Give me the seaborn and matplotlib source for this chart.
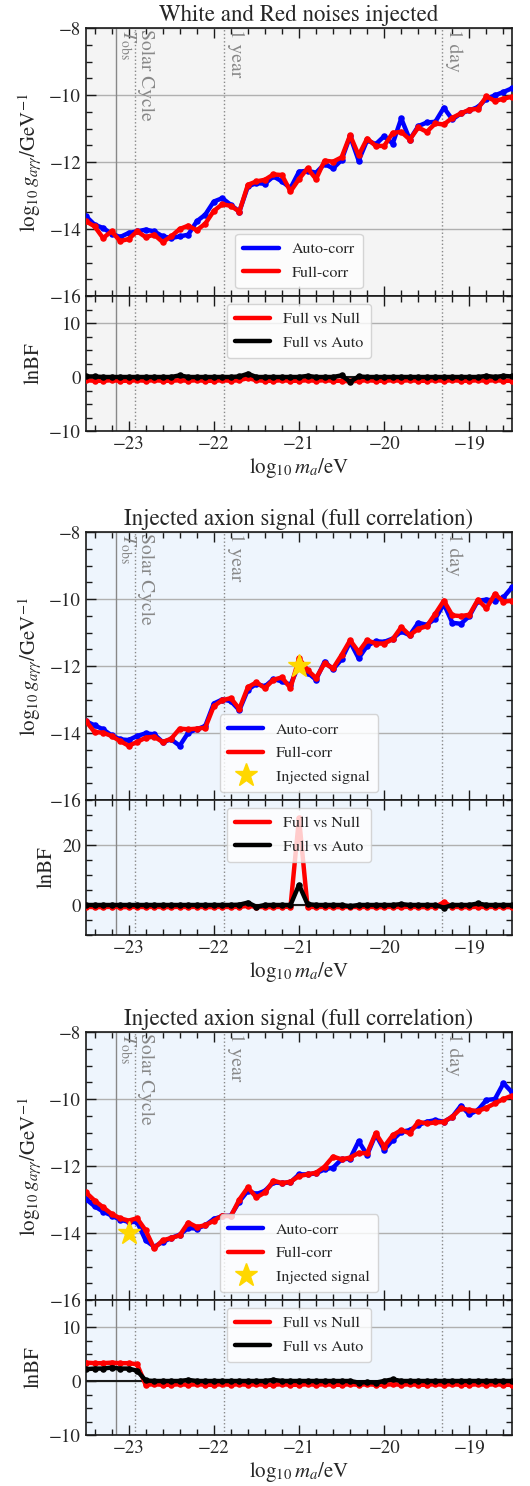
import numpy as np
import matplotlib
matplotlib.use("Agg")
import matplotlib.pyplot as plt
from matplotlib.ticker import AutoMinorLocator, MultipleLocator
import seaborn as sns

# ---- data ----
log_ma = [-23.5, -23.4, -23.3, -23.2, -23.1, -23.0, -22.9, -22.8, -22.7, -22.6,
          -22.5, -22.4, -22.3, -22.2, -22.1, -22.0, -21.9, -21.8, -21.7, -21.6,
          -21.5, -21.4, -21.3, -21.2, -21.1, -21.0, -20.9, -20.8, -20.7, -20.6,
          -20.5, -20.4, -20.3, -20.2, -20.1, -20.0, -19.9, -19.8, -19.7, -19.6,
          -19.5, -19.4, -19.3, -19.2, -19.1, -19.0, -18.9, -18.8, -18.7, -18.6,
          -18.5]

# panel 1: white + red noise
auto_1 = [-13.62, -13.87, -13.97, -14.14, -14.24, -14.12, -14.07, -14.02, -14.07, -14.22,
          -14.27, -14.22, -14.17, -13.77, -13.57, -13.18, -13.08, -13.28, -13.48, -12.73,
          -12.63, -12.65, -12.43, -12.58, -12.78, -12.29, -12.26, -12.32, -12.06, -12.19,
          -11.94, -11.23, -11.96, -11.35, -11.47, -11.23, -11.45, -10.70, -11.33, -10.93,
          -10.82, -10.80, -10.38, -10.73, -10.55, -10.46, -10.36, -10.11, -10.01, -9.91,
          -9.80]
full_1 = [-13.77, -13.92, -14.27, -14.07, -14.36, -14.30, -14.07, -14.24, -14.17, -14.39,
          -14.22, -14.00, -13.90, -14.04, -13.84, -13.46, -13.26, -13.31, -13.48, -12.68,
          -12.58, -12.53, -12.37, -12.39, -12.88, -12.51, -12.19, -12.51, -11.96, -11.99,
          -11.86, -11.20, -11.80, -11.30, -11.52, -11.52, -11.13, -11.10, -11.33, -10.97,
          -11.10, -10.85, -10.88, -10.68, -10.55, -10.44, -10.41, -10.04, -10.18, -10.11,
          -10.05]
lnbf_null_1 = [-0.6, -0.7, -0.7, -0.6, -0.7, -0.7, -0.6, -0.7, -0.6, -0.7,
               -0.7, -0.6, -0.7, -0.6, -0.7, -0.7, -0.6, -0.7, -0.6, -0.2,
               -0.6, -0.7, -0.7, -0.6, -0.7, -0.7, -0.6, -0.7, -0.6, -0.7,
               -0.7, -0.8, -0.7, -0.6, -0.7, -0.7, -0.6, -0.7, -0.6, -0.7,
               -0.7, -0.6, -0.7, -0.6, -0.7, -0.7, -0.6, -0.7, -0.6, -0.7,
               -0.7]
lnbf_auto_1 = [0.1, 0.1, 0.0, 0.0, 0.0, 0.0, 0.0, 0.0, 0.0, 0.0,
               0.0, 0.3, 0.0, 0.0, 0.0, 0.0, 0.0, 0.0, 0.1, 0.6,
               0.0, 0.0, 0.0, 0.0, 0.0, 0.0, 0.2, 0.0, 0.0, 0.0,
               0.3, -0.9, 0.1, 0.0, 0.0, 0.0, 0.0, 0.0, 0.0, 0.0,
               0.0, 0.0, 0.0, 0.0, 0.0, 0.0, 0.0, 0.2, 0.0, 0.2,
               0.1]

# panel 2: axion injected at -21
auto_2 = [-13.65, -13.77, -13.89, -14.07, -14.19, -14.21, -14.09, -14.01, -14.04, -14.27,
          -14.19, -14.38, -13.99, -13.89, -13.79, -13.12, -13.00, -13.05, -13.32, -12.71,
          -12.53, -12.61, -12.39, -12.46, -12.56, -11.97, -12.20, -12.41, -11.87, -12.10,
          -11.80, -11.28, -11.77, -11.40, -11.26, -11.28, -11.18, -10.97, -11.08, -10.71,
          -10.77, -10.59, -10.15, -10.71, -10.74, -10.51, -10.05, -10.02, -10.05, -9.95,
          -9.65]
full_2 = [-13.65, -13.97, -13.99, -14.09, -14.24, -14.38, -14.27, -14.14, -14.11, -14.27,
          -14.17, -13.87, -13.89, -13.87, -13.84, -13.20, -13.02, -12.96, -13.28, -12.63,
          -12.49, -12.66, -12.41, -12.34, -12.66, -11.77, -12.12, -12.36, -11.92, -12.07,
          -11.67, -11.23, -11.58, -11.23, -11.33, -11.33, -11.20, -10.84, -11.08, -10.89,
          -10.81, -10.44, -10.05, -10.49, -10.51, -10.47, -10.02, -10.28, -9.85, -10.08,
          -10.05]
lnbf_null_2 = [-0.6, -0.7, -0.7, -0.6, -0.7, -0.7, -0.6, -0.7, -0.6, -0.7,
               -0.7, -0.6, -0.7, -0.6, -0.7, -0.7, -0.6, -0.7, -0.6, -0.3,
               -0.6, -0.7, -0.7, -0.6, -0.6, 29.0, -0.6, -0.7, -0.6, -0.7,
               -0.7, -0.6, -0.7, -0.6, -0.7, -0.7, -0.6, -0.7, -0.6, -0.7,
               -0.7, -0.6, 0.9, -0.6, -0.7, -0.7, -0.6, -0.7, -0.6, -0.7,
               -0.7]
lnbf_auto_2 = [0.0, 0.0, 0.0, 0.0, 0.0, 0.0, 0.0, 0.0, 0.0, 0.0,
               0.0, 0.0, 0.0, 0.0, 0.0, 0.0, 0.0, 0.0, 0.1, 0.8,
               -0.6, 0.0, 0.0, 0.0, 0.0, 6.7, 0.3, 0.0, 0.0, 0.0,
               0.0, -0.4, 0.0, 0.0, 0.0, 0.0, 0.0, 0.3, 0.0, 0.0,
               0.0, 0.0, -0.9, 0.0, 0.0, 0.0, 0.5, 0.0, 0.0, 0.0,
               0.0]

# panel 3: axion injected at -23
auto_3 = [-12.99, -13.20, -13.36, -13.48, -13.60, -13.67, -13.67, -14.22, -14.41, -14.27,
          -14.15, -14.05, -13.85, -13.87, -13.77, -13.58, -13.50, -13.48, -13.06, -12.74,
          -12.84, -12.74, -12.49, -12.51, -12.49, -12.25, -12.25, -12.22, -12.10, -12.05,
          -11.80, -11.78, -11.26, -11.67, -11.06, -11.52, -11.22, -10.98, -10.93, -10.78,
          -10.68, -10.63, -10.68, -10.53, -10.20, -10.46, -10.33, -10.03, -10.00, -9.53,
          -9.80]
full_3 = [-12.79, -13.03, -13.23, -13.43, -13.56, -13.63, -13.56, -13.92, -14.46, -14.22,
          -14.15, -14.07, -13.69, -13.82, -13.77, -13.63, -13.48, -13.50, -13.00, -12.64,
          -12.94, -12.79, -12.44, -12.51, -12.47, -12.30, -12.25, -12.20, -12.02, -11.72,
          -11.80, -11.75, -11.61, -11.62, -11.02, -11.42, -11.08, -10.93, -11.02, -10.68,
          -10.73, -10.70, -10.68, -10.53, -10.28, -10.33, -10.36, -10.26, -10.13, -10.00,
          -9.90]
lnbf_null_3 = [3.4, 3.3, 3.3, 3.4, 3.3, 3.3, 3.1, -0.7, -0.6, -0.7,
               -0.7, -0.6, -0.7, -0.6, -0.7, -0.7, -0.6, -0.7, -0.6, -0.7,
               -0.6, -0.7, -0.7, -0.6, -0.7, -0.7, -0.6, -0.7, -0.6, -0.7,
               -0.7, -0.6, -0.7, -0.6, -0.7, -0.7, -0.6, -0.7, -0.6, -0.7,
               -0.7, -0.6, -0.7, -0.6, -0.7, -0.7, -0.6, -0.7, -0.6, -0.7,
               -0.7]
lnbf_auto_3 = [2.2, 2.3, 2.3, 2.5, 2.3, 2.3, 1.9, 0.1, 0.0, 0.0,
               0.0, 0.0, 0.2, 0.0, 0.0, 0.0, 0.0, 0.0, 0.0, 0.0,
               0.0, 0.0, 0.2, 0.0, 0.0, 0.0, 0.0, 0.0, 0.0, 0.0,
               0.0, 0.0, -0.3, -0.2, -0.3, 0.0, 0.3, 0.0, 0.0, 0.0,
               0.0, 0.0, 0.0, 0.0, 0.0, 0.0, 0.0, 0.0, 0.0, 0.0,
               0.0]

titles = ["White and Red noises injected",
          "Injected axion signal (full correlation)",
          "Injected axion signal (full correlation)"]
inj_x = [None, -21.0, -23.0]
inj_y = [None, -12.0, -14.0]
bf_ylim = [(-10, 15), (-10, 35), (-10, 15)]
bf_major = [10, 20, 10]
face = ["#f4f4f4", "#eef5fd", "#eef5fd"]

# reference time-scales (log10 m / eV)
scale_x = [-23.15, -22.93, -21.88, -19.32]
scale_lbl = [r"$T_{\rm obs}$", "Solar Cycle", "1 year", "1 day"]
scale_ls = ["-", ":", ":", ":"]

sns.set_theme(style="ticks")
plt.rcParams["font.family"] = ["STIXGeneral", "DejaVu Serif"]
plt.rcParams["mathtext.fontset"] = "stix"
plt.rcParams["axes.unicode_minus"] = True

W, H = 530, 1486
fig = plt.figure(figsize=(W / 100, H / 100), dpi=100)
left, width = 86 / W, 426 / W
tops = [28, 532, 1032]
h_top, h_bf = 268, 135

auto_all = [auto_1, auto_2, auto_3]
full_all = [full_1, full_2, full_3]
null_all = [lnbf_null_1, lnbf_null_2, lnbf_null_3]
fa_all = [lnbf_auto_1, lnbf_auto_2, lnbf_auto_3]


def style_axis(ax, fc):
    ax.set_facecolor(fc)
    ax.set_xlim(-23.5, -18.5)
    ax.xaxis.set_major_locator(MultipleLocator(1))
    ax.xaxis.set_minor_locator(AutoMinorLocator(5))
    ax.yaxis.set_minor_locator(AutoMinorLocator(4))
    ax.tick_params(which="both", direction="in", top=True, right=True,
                   labelsize=13.5, width=1.0, color="k")
    ax.tick_params(which="major", length=7)
    ax.tick_params(which="minor", length=4)
    for sp in ax.spines.values():
        sp.set_color("k")
        sp.set_linewidth(1.2)
    ax.set_axisbelow(True)
    ax.yaxis.grid(True, color="#b0b0b0", lw=1.0)
    ax.xaxis.grid(False)
    for xv, ls in zip(scale_x, scale_ls):
        ax.axvline(xv, color="#888888", ls=ls, lw=1.0, zorder=1)


def add_legend(ax, loc):
    leg = ax.legend(loc=loc, fontsize=11.5, facecolor="white",
                    edgecolor="#cccccc", framealpha=0.8, handlelength=2.2,
                    borderpad=0.5, labelspacing=0.6)
    for ln in leg.get_lines():
        ln.set_linewidth(3.2)


for g in range(3):
    t = tops[g]
    ax = fig.add_axes([left, 1 - (t + h_top) / H, width, h_top / H])
    bx = fig.add_axes([left, 1 - (t + h_top + h_bf) / H, width, h_bf / H])

    # upper: coupling limits
    style_axis(ax, face[g])
    sns.lineplot(x=log_ma, y=auto_all[g], color="blue", lw=3.2, label="Auto-corr",
                 ax=ax, zorder=3)
    sns.scatterplot(x=log_ma, y=auto_all[g], color="blue", s=22, linewidth=0,
                    legend=False, ax=ax, zorder=3)
    sns.lineplot(x=log_ma, y=full_all[g], color="red", lw=3.2, label="Full-corr",
                 ax=ax, zorder=4)
    sns.scatterplot(x=log_ma, y=full_all[g], color="red", s=22, linewidth=0,
                    legend=False, ax=ax, zorder=4)
    if inj_x[g] is not None:
        ax.plot([inj_x[g]], [inj_y[g]], marker="*", ls="none", ms=17,
                color="#FFD700", label="Injected signal", zorder=5)
    ax.set_ylim(-16, -8)
    ax.yaxis.set_major_locator(MultipleLocator(2))
    ax.tick_params(labelbottom=False)
    ax.set_xlabel("")
    ax.set_ylabel(r"$\log_{10} g_{a\gamma\gamma}/{\rm GeV}^{-1}$", fontsize=15)
    ax.set_title(titles[g], fontsize=16.5, pad=5)
    for xv, lbl in zip(scale_x, scale_lbl):
        ax.text(xv + 0.03, -8.02, lbl, rotation=270, va="top", ha="left",
                color="#888888", fontsize=14)
    add_legend(ax, "lower center")

    # lower: log Bayes factors
    style_axis(bx, face[g])
    bx.axhline(0, color="k", lw=1.5, zorder=2)
    sns.lineplot(x=log_ma, y=null_all[g], color="red", lw=3.2, label="Full vs Null",
                 ax=bx, zorder=3)
    sns.scatterplot(x=log_ma, y=null_all[g], color="red", s=22, linewidth=0,
                    legend=False, ax=bx, zorder=3)
    sns.lineplot(x=log_ma, y=fa_all[g], color="black", lw=3.2, label="Full vs Auto",
                 ax=bx, zorder=4)
    sns.scatterplot(x=log_ma, y=fa_all[g], color="black", s=22, linewidth=0,
                    legend=False, ax=bx, zorder=4)
    bx.set_ylim(*bf_ylim[g])
    bx.yaxis.set_major_locator(MultipleLocator(bf_major[g]))
    bx.yaxis.set_minor_locator(AutoMinorLocator(4))
    bx.set_ylabel("lnBF", fontsize=15)
    bx.set_xlabel(r"$\log_{10} m_a/{\rm eV}$", fontsize=15, labelpad=2)
    add_legend(bx, "upper center")

fig.savefig("out.png", dpi=100)
